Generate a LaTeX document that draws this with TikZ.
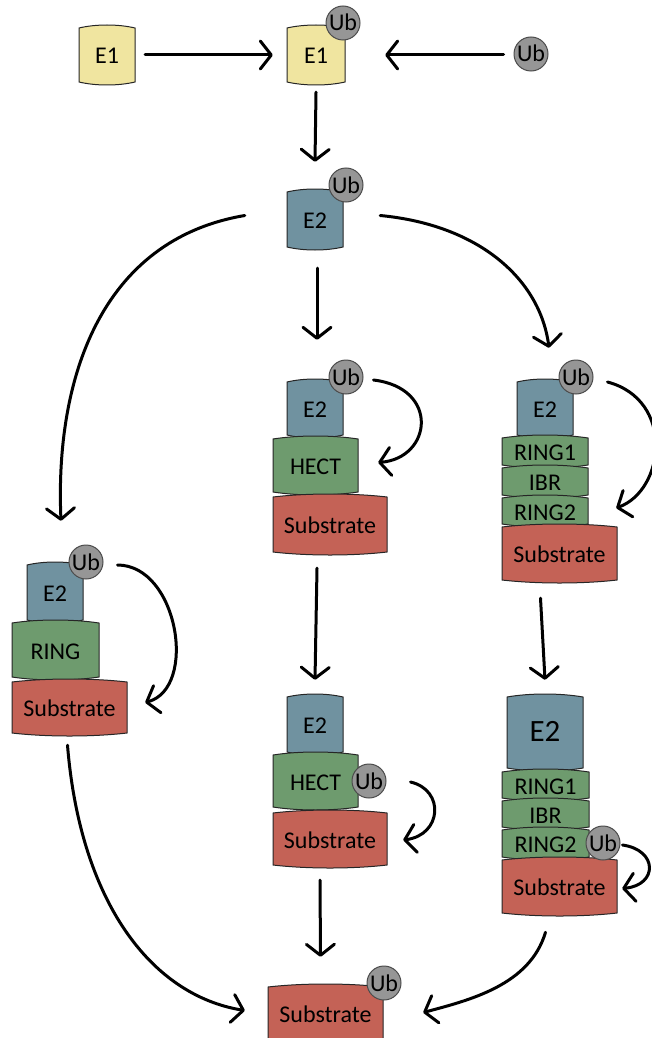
\documentclass[tikz,border=0pt]{standalone}
\usepackage{fontspec}
\setmainfont{Carlito}
\usetikzlibrary{arrows.meta,calc}
\definecolor{cyel}{RGB}{240,229,160}
\definecolor{cblue}{RGB}{112,146,160}
\definecolor{cgreen}{RGB}{110,155,110}
\definecolor{cred}{RGB}{196,98,86}
\definecolor{cgrey}{RGB}{150,150,150}
\tikzset{
  barrelline/.style={draw=black!85, line width=1pt},
  boxtext/.style={inner sep=0pt, text height=18pt, text depth=0pt, font=\fontsize{24}{26}\selectfont},
  ub/.style={circle, fill=cgrey, draw=black!70, line width=1pt, minimum size=34pt, inner sep=0pt,
    text height=16pt, text depth=0pt, font=\fontsize{24}{26}\selectfont},
  arr/.style={line width=3pt, line cap=round, -{Straight Barb[length=11pt,width=28pt,line width=3pt,round]}}
}
\newcommand\barrel[7]{%
  \path[barrelline, fill=#6] (#2,#3) .. controls ({#2+0.3*(#4-#2)},{#3-4}) and ({#4-0.3*(#4-#2)},{#3-4}) .. (#4,#3)
    -- (#4,#5) .. controls ({#4-0.3*(#4-#2)},{#5+4}) and ({#2+0.3*(#4-#2)},{#5+4}) .. (#2,#5) -- cycle;
  \node[boxtext, minimum width={(#4-#2)*1pt}, minimum height={(#5-#3)*1pt}] (#1) at ({(#2+#4)/2},{(#3+#5)/2}) {#7};}
\begin{document}
\begin{tikzpicture}[x=1pt,y=-1pt]
\fill[white] (0,0) rectangle (651,1038);
\useasboundingbox (0,0) rectangle (651,1038);
% top row
\barrel{e1a}{79}{28}{135}{82}{cyel}{E1}
\barrel{e1b}{287}{28}{345}{82}{cyel}{E1}
\node[ub] (ub1) at (343,23) {Ub};
\node[ub] (ubfree) at (531,54) {Ub};
% E2 top
\barrel{e2top}{287}{192}{343}{247}{cblue}{E2}
\node[ub] (ub2) at (346,185) {Ub};
% middle stack 1
\barrel{h1e2}{287}{382}{343}{435}{cblue}{E2}
\barrel{h1hect}{273}{439}{358}{492}{cgreen}{HECT}
\barrel{h1sub}{273}{497}{387}{552}{cred}{Substrate}
\node[ub] (h1ub) at (346,377) {Ub};
% right stack 1
\barrel{r1e2}{517}{382}{573}{435}{cblue}{E2}
\barrel{r1ring1}{502}{438}{588}{465}{cgreen}{RING1}
\barrel{r1ibr}{502}{468}{588}{495}{cgreen}{IBR}
\barrel{r1ring2}{502}{498}{588}{524}{cgreen}{RING2}
\barrel{r1sub}{502}{527}{617}{580}{cred}{Substrate}
\node[ub] (r1ub) at (576,377) {Ub};
% left stack
\barrel{l1e2}{27}{565}{83}{620}{cblue}{E2}
\barrel{l1ring}{12}{623}{99}{677}{cgreen}{RING}
\barrel{l1sub}{12}{682}{127}{733}{cred}{Substrate}
\node[ub] (l1ub) at (86,562) {Ub};
% middle stack 2
\barrel{h2e2}{287}{697}{343}{752}{cblue}{E2}
\barrel{h2hect}{273}{755}{358}{807}{cgreen}{HECT}
\barrel{h2sub}{273}{813}{387}{865}{cred}{Substrate}
\node[ub] (h2ub) at (369,781) {Ub};
% right stack 2
\barrel{r2e2}{507}{697}{583}{768}{cblue}{\fontsize{31}{33}\selectfont E2}
\barrel{r2ring1}{502}{772}{589}{798}{cgreen}{RING1}
\barrel{r2ibr}{502}{801}{589}{827}{cgreen}{IBR}
\barrel{r2ring2}{502}{830}{589}{857}{cgreen}{RING2}
\barrel{r2sub}{502}{860}{617}{913}{cred}{Substrate}
\node[ub] (r2ub) at (603,843) {Ub};
% final
\barrel{fsub}{268}{987}{383}{1040}{cred}{Substrate}
\node[ub] (fub) at (384,983) {Ub};
% arrows
\draw[arr] ($(e1a.east)+(10,0)$) -- ($(e1b.west)+(-14,0)$);
\draw[arr] ($(ubfree.west)+(-10,1)$) -- ($(e1b.east)+(40,0)$);
\draw[arr] ($(e1b.south)+(0,10)$) -- ($(e2top.north)+(0,-30)$);
\draw[arr] ($(e2top.west)+(-42,-4)$) .. controls (100,240) and (55,380) .. ($(l1e2.north)+(6,-44)$);
\draw[arr] ($(e2top.east)+(37,-4)$) .. controls (480,225) and (540,280) .. ($(r1e2.north)+(4,-34)$);
\draw[arr] ($(e2top.south)+(2,21)$) -- ($(h1e2.north)+(2,-42)$);
\draw[arr] ($(h1ub.east)+(10,3)$) .. controls (440,388) and (432,458) .. ($(h1hect.east)+(20,-3)$);
\draw[arr] ($(r1ub.east)+(14,5)$) .. controls (675,400) and (665,490) .. ($(r1ring2.east)+(28,-3)$);
\draw[arr] ($(l1ub.east)+(14,3)$) .. controls (178,565) and (198,688) .. ($(l1sub.east)+(18,-5)$);
\draw[arr] ($(h1sub.south)+(-13,16)$) -- ($(h2e2.north)+(0,-17)$);
\draw[arr] ($(h2ub.east)+(24,1)$) .. controls (445,790) and (442,835) .. ($(h2sub.east)+(16,1)$);
\draw[arr] ($(r1sub.south)+(-19,18)$) -- ($(r2e2.north)+(0,-17)$);
\draw[arr] ($(r2ub.east)+(2,2)$) .. controls (658,850) and (658,885) .. ($(r2sub.east)+(5,2)$);
\draw[arr] ($(l1sub.south)+(-2,12)$) .. controls (80,900) and (150,995) .. ($(fsub.west)+(-23,-3)$);
\draw[arr] ($(h2sub.south)+(-10,15)$) -- ($(fsub.north)+(-5,-30)$);
\draw[arr] ($(r2sub.south)+(-14,19)$) .. controls (530,985) and (470,1000) .. ($(fsub.east)+(40,-1)$);
\end{tikzpicture}
\end{document}
